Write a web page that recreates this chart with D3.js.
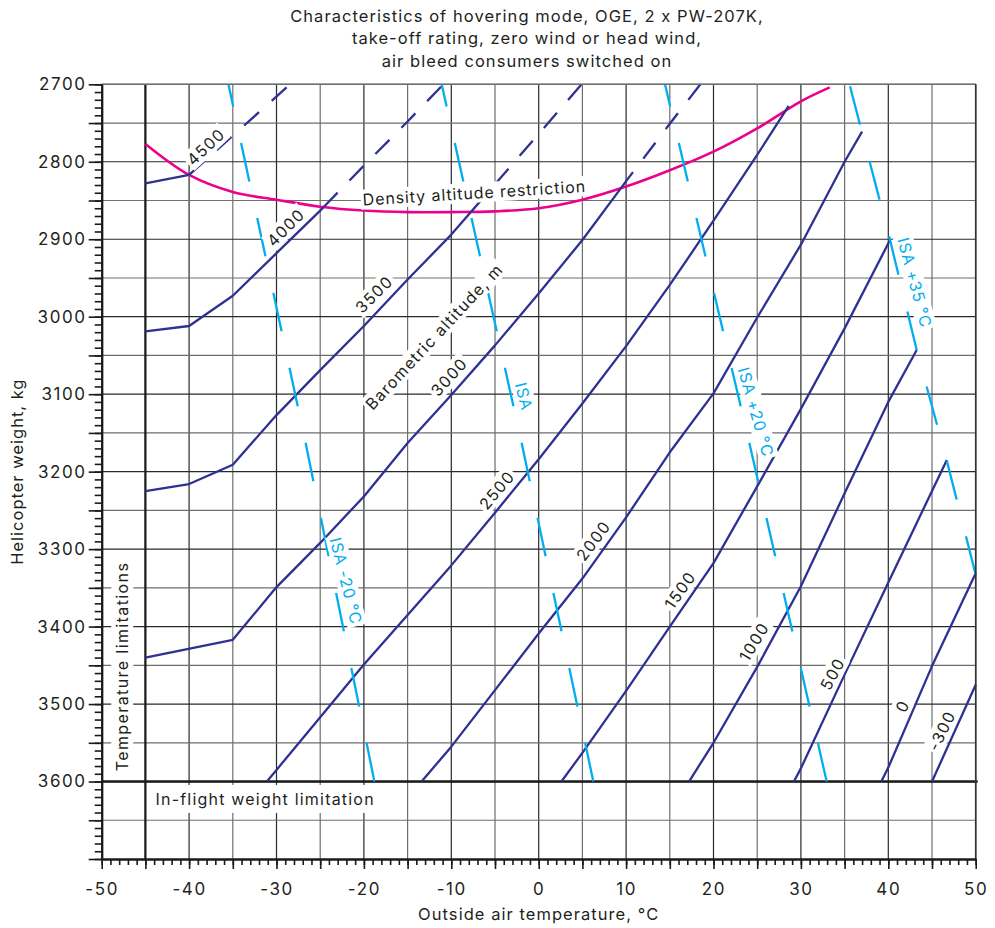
<!DOCTYPE html>
<html>
<head>
<meta charset="utf-8">
<script src="https://cdn.jsdelivr.net/npm/d3@7/dist/d3.min.js"></script>
<style>
html,body{margin:0;padding:0;background:#fff;}
svg text{font-family:Inter,"Noto Sans",sans-serif;fill:#231f20;}
</style>
</head>
<body>
<svg id="chart" width="995" height="928"></svg>
<script>
// ================= DATA =================
const titleLines = [
  "Characteristics of hovering mode, OGE, 2 x PW-207K,",
  "take-off rating, zero wind or head wind,",
  "air bleed consumers switched on"
];
const xTitle = "Outside air temperature, °C";
const yTitle = "Helicopter weight, kg";
const xDomain = [-50, 50];
const yDomain = [2700, 3700];
const xTickLabels = [-50, -40, -30, -20, -10, 0, 10, 20, 30, 40, 50];
const yTickLabels = [2700, 2800, 2900, 3000, 3100, 3200, 3300, 3400, 3500, 3600];

// Barometric altitude curves: [outside air temperature °C, helicopter weight kg]
const alt4500 = [[-45,2828],[-40,2817],[-28.45,2700]];
const alt4000 = [[-45,3019],[-40,3012],[-35,2973],[-30,2918],[-25,2863],[-20,2805],[-15,2748],[-10.9,2700]];
const alt3500 = [[-45,3225],[-40,3216],[-35,3191],[-30,3127],[-25,3069],[-20,3012],[-15,2952],[-10,2894],[-5,2829],[0,2764],[4.9,2700]];
const alt3000 = [[-45,3440],[-35,3417],[-30,3349],[-25,3292],[-20,3232],[-15,3163],[-10,3101],[-5,3037],[0,2970],[5,2901],[10,2825],[15,2751],[18.5,2700]];
const alt2500 = [[-31.1,3600],[-30,3585],[-25,3517],[-20,3449],[-15,3385],[-10,3321],[-5,3253],[0,3184],[5,3112],[10,3038],[15,2959],[20,2876],[25,2791],[28.6,2728]];
const alt2000 = [[-13.4,3600],[-10,3555],[-5,3482],[0,3409],[5,3338],[10,3259],[15,3175],[20,3099],[25,3001],[30,2907],[35,2800],[37,2761]];
const alt1500 = [[2.6,3600],[5,3563],[10,3483],[15,3400],[20,3318],[25,3219],[30,3119],[35,3015],[40.2,2901]];
const alt1000 = [[17.2,3600],[20,3550],[25,3452],[30,3348],[35,3228],[40,3110],[43.25,3043]];
const alt500  = [[29.2,3600],[30,3583],[35,3462],[40,3343],[45,3225],[46.7,3185]];
const alt0    = [[39.2,3600],[40,3582],[45,3451],[50,3331]];
const altM300 = [[45,3600],[50,3475]];
const altitudeNames = ["4500","4000","3500","3000","2500","2000","1500","1000","500","0","-300"];
const altitudeSeries = [alt4500, alt4000, alt3500, alt3000, alt2500, alt2000, alt1500, alt1000, alt500, alt0, altM300];
const dashedAboveRestriction = ["4500","4000","3500","3000"];

// Density altitude restriction
const densityRestriction = [[-45,2777],[-40,2817],[-35,2839],[-30,2849],[-25,2858],[-20,2863],[-15,2865],[-10,2865],[-5,2864],[0,2860],[5,2849],[10,2832],[15,2811],[20,2787],[25,2757],[30,2722],[33.3,2704]];

// ISA temperature lines
const isaMinus20 = [[-35.5,2700],[-26.7,3161],[-18.8,3600]];
const isaStd     = [[-11.1,2700],[-1.95,3163],[6.25,3600]];
const isaPlus20  = [[14.45,2700],[24.1,3163],[32.95,3600]];
const isaPlus35  = [[35.56,2700],[40.2,2901],[43.25,3043],[46.68,3185],[50,3333]];
const isaNames = ["ISA -20 °C", "ISA", "ISA +20 °C", "ISA +35 °C"];
const isaSeries = [isaMinus20, isaStd, isaPlus20, isaPlus35];

// Limits
const temperatureLimit = -45;
const weightLimit = 3600;

// Annotation anchors (data units) and angles
const altitudeLabelT = [-38.1,-28.95,-18.84,-10.26,-4.8,6.25,16.17,24.63,33.6,41.6,46.1];
const altitudeLabelW = [2780.5,2884.6,2970.7,3077.5,3223.7,3289,3352.8,3419.5,3461,3502.5,3534.4];
const altitudeLabelAngle = [-43,-45,-45,-48,-50,-53,-55,-59,-62,-64,-64];
const isaLabelT = [-22.03,-1.68,24.86,43.05];
const isaLabelW = [3341,3103,3123,2956];
const isaLabelAngle = [76,76,74,75];

// ================= CHART =================
const svg = d3.select("#chart");
const x = d3.scaleLinear().domain(xDomain).range([101.7, 975.7]);
const y = d3.scaleLinear().domain(yDomain).range([84.3, 859]);

const BLUE = "#2e3192", PINK = "#ec008c", CYAN = "#00aeef", INK = "#231f20";

// Title
svg.append("g").selectAll("text").data(titleLines).join("text")
  .attr("x", 527).attr("y", (d, i) => 21.7 + i * 22.6)
  .attr("text-anchor", "middle").attr("font-size", 16.5)
  .attr("letter-spacing", 1.05)
  .text(d => d);

// Grid
const grid = svg.append("g");
grid.selectAll("line.v").data(d3.range(-45, 51, 5)).join("line")
  .attr("x1", d => x(d)).attr("x2", d => x(d))
  .attr("y1", y(2700)).attr("y2", y(3700))
  .attr("stroke", d => d % 10 === 0 ? "#2a2a2a" : "#6e6e6e").attr("stroke-width", 1.2);
grid.selectAll("line.h").data(d3.range(2700, 3700, 50)).join("line")
  .attr("x1", x(-50)).attr("x2", x(50))
  .attr("y1", d => y(d)).attr("y2", d => y(d))
  .attr("stroke", d => (d % 100 === 0 && d !== 2700) ? "#2a2a2a" : "#6e6e6e").attr("stroke-width", 1.2);

// Limitation lines
svg.append("line").attr("x1", x(temperatureLimit)).attr("x2", x(temperatureLimit))
  .attr("y1", y(2700)).attr("y2", y(3700)).attr("stroke", "#1a1a1a").attr("stroke-width", 2.2);
svg.append("line").attr("x1", x(-50)).attr("x2", x(50) + 2)
  .attr("y1", y(weightLimit)).attr("y2", y(weightLimit)).attr("stroke", "#1a1a1a").attr("stroke-width", 2.6);

// helpers
function interp(pts, T) {
  if (T < pts[0][0] || T > pts[pts.length - 1][0]) return null;
  for (let i = 0; i < pts.length - 1; i++) {
    const a = pts[i], b = pts[i + 1];
    if (T >= a[0] && T <= b[0]) return a[1] + (b[1] - a[1]) * (T - a[0]) / (b[0] - a[0]);
  }
  return null;
}
const lineLin = d3.line().x(d => x(d[0])).y(d => y(d[1]));
const lineSmooth = d3.line().x(d => x(d[0])).y(d => y(d[1])).curve(d3.curveCatmullRom.alpha(0.5));

// Density altitude restriction
svg.append("path").attr("d", lineSmooth(densityRestriction))
  .attr("fill", "none").attr("stroke", PINK).attr("stroke-width", 2.6);

// Altitude curves
const altG = svg.append("g");
altitudeSeries.forEach((pts, i) => {
  const name = altitudeNames[i];
  let solid = pts, dashed = null;
  if (dashedAboveRestriction.includes(name)) {
    let Tc = null;
    for (let T = pts[0][0]; T <= pts[pts.length - 1][0]; T += 0.01) {
      const wa = interp(pts, T), wp = interp(densityRestriction, T);
      if (wa !== null && wp !== null && wa <= wp + 0.01) { Tc = T; break; }
    }
    if (Tc !== null) {
      const c = [Tc, interp(pts, Tc)];
      solid = pts.filter(p => p[0] < Tc).concat([c]);
      dashed = [c].concat(pts.filter(p => p[0] > Tc));
    }
  }
  altG.append("path").attr("d", lineLin(solid)).attr("fill", "none")
    .attr("stroke", BLUE).attr("stroke-width", 2.3).attr("stroke-linejoin", "round");
  if (dashed) {
    altG.append("path").attr("d", lineLin(dashed)).attr("fill", "none")
      .attr("stroke", BLUE).attr("stroke-width", 2.3).attr("stroke-dasharray", "20 17");
  }
});

// ISA lines (drawn from heavy end upward so dashes start at the bottom)
const isaG = svg.append("g");
isaSeries.forEach(pts => {
  const rev = pts.slice().reverse();
  const p = isaG.append("path").attr("d", lineLin(rev)).attr("fill", "none")
    .attr("stroke", CYAN).attr("stroke-width", 2.3);
  const len = p.node().getTotalLength();
  const dy = y(rev[0][1]) - y(rev[rev.length - 1][1]);
  const k = len / dy;
  p.attr("stroke-dasharray", `${38.4 * k} ${36.6 * k}`);
});

// Labels with white background
function label(txt, T, W, angle, opts = {}) {
  const g = svg.append("g").attr("transform", `translate(${x(T)},${y(W)}) rotate(${angle})`);
  const r = g.append("rect").attr("fill", "#fff");
  const t = g.append("text").attr("text-anchor", opts.anchor || "middle")
    .attr("dominant-baseline", "central")
    .attr("font-size", opts.size || 16)
    .attr("letter-spacing", opts.ls != null ? opts.ls : 1.1)
    .style("fill", opts.color || INK).text(txt);
  const b = t.node().getBBox();
  const px = opts.padX != null ? opts.padX : 2, py = opts.padY != null ? opts.padY : 0;
  r.attr("x", b.x - px).attr("y", b.y - py).attr("width", b.width + 2 * px).attr("height", b.height + 2 * py);
}

altitudeNames.forEach((n, i) => label(n, altitudeLabelT[i], altitudeLabelW[i], altitudeLabelAngle[i], {size: 16, ls: 1.3}));
label("Barometric altitude, m", -11.97, 3025.4, -47, {size: 16, ls: 1.2});
isaNames.forEach((n, i) => label(n, isaLabelT[i], isaLabelW[i], isaLabelAngle[i], {size: 16, color: CYAN, ls: 0.9}));
label("Density altitude restriction", -7.37, 2840, -3.5, {size: 16, ls: 0.9});
label("Temperature limitations", -47.65, 3451.5, -90, {size: 16, padX: 3, padY: 1, ls: 1.4});
label("In-flight weight limitation", -31.3, 3622.5, 0, {size: 16, padX: 4, padY: 4, ls: 1.2});

// Border (top & right)
svg.append("line").attr("x1", x(-50)).attr("x2", x(50)).attr("y1", y(2700)).attr("y2", y(2700))
  .attr("stroke", "#6e6e6e").attr("stroke-width", 1.4);
svg.append("line").attr("x1", x(50)).attr("x2", x(50)).attr("y1", y(2700)).attr("y2", y(3700))
  .attr("stroke", "#333").attr("stroke-width", 1.6);

// Axes
const fmt = d => String(d);
const gxMinor = svg.append("g").attr("transform", `translate(0,${y(3700)})`)
  .call(d3.axisBottom(x).tickValues(d3.range(-50, 51, 1)).tickSize(6).tickSizeOuter(0).tickFormat(""));
const gxMajor = svg.append("g").attr("transform", `translate(0,${y(3700)})`)
  .call(d3.axisBottom(x).tickValues(d3.range(-50, 51, 5)).tickSize(10).tickSizeOuter(0).tickPadding(14)
    .tickFormat(d => xTickLabels.includes(d) ? fmt(d) : ""));
const gyMinor = svg.append("g").attr("transform", `translate(${x(-50)},0)`)
  .call(d3.axisLeft(y).tickValues(d3.range(2700, 3701, 10)).tickSize(7).tickSizeOuter(0).tickFormat(""));
const gyMajor = svg.append("g").attr("transform", `translate(${x(-50)},0)`)
  .call(d3.axisLeft(y).tickValues(d3.range(2700, 3701, 50)).tickSize(13).tickSizeOuter(0).tickPadding(2)
    .tickFormat(d => yTickLabels.includes(d) ? fmt(d) : ""));
[gxMinor, gxMajor, gyMinor, gyMajor].forEach(g => {
  g.select(".domain").attr("stroke", "#1a1a1a").attr("stroke-width", 2);
  g.selectAll(".tick line").attr("stroke", "#1a1a1a").attr("stroke-width", 1.6);
  g.selectAll(".tick text").attr("font-size", 17).attr("letter-spacing", 1.6)
    .attr("font-family", "Inter, 'Noto Sans', sans-serif").style("fill", INK);
});

// Axis titles
svg.append("text").attr("x", x(0)).attr("y", 920).attr("text-anchor", "middle")
  .attr("font-size", 16.5).attr("letter-spacing", 1.05).text(xTitle);
svg.append("text").attr("transform", `translate(23,${(y(2700) + y(3700)) / 2}) rotate(-90)`)
  .attr("text-anchor", "middle").attr("font-size", 16.5).attr("letter-spacing", 1.0).text(yTitle);
</script>
</body>
</html>
